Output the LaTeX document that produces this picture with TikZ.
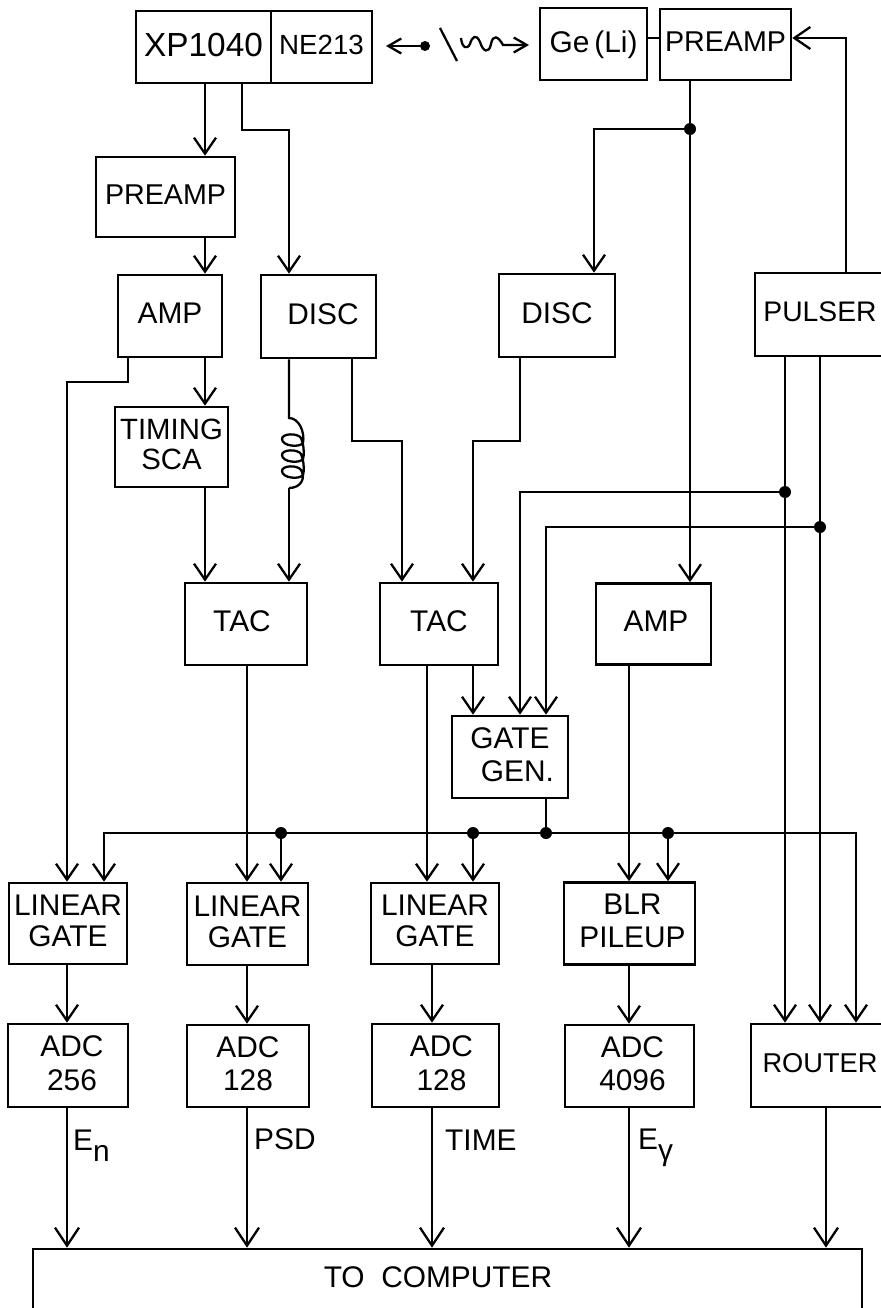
\documentclass[tikz,border=0pt]{standalone}
\usepackage{fontspec}
\setmainfont{Liberation Sans}
\usetikzlibrary{arrows.meta}

\begin{document}
\begin{tikzpicture}[x=0.02cm,y=-0.02cm,
    box/.style 2 args={draw,line width=1.5pt,inner sep=0pt,align=center,text depth=0.1cm,
      minimum width=#1*0.02cm,minimum height=#2*0.02cm,
      font=\fontsize{17}{19}\selectfont},
    wire/.style={line width=1.3pt},
    tip/.style={-{Straight Barb[length=3.2mm,width=4.4mm,line width=1.3pt]}},
    bigtip/.style={-{Straight Barb[length=3.6mm,width=4.8mm,line width=1.3pt]}},
    smalltip/.style={-{Straight Barb[length=2.6mm,width=3mm,line width=1.3pt]}},
    jdot/.style={circle,fill=black,inner sep=0pt,minimum size=0.24cm},
    tag/.style={anchor=base west,font=\fontsize{17}{20}\selectfont}]
  \useasboundingbox (0,0) rectangle (881,1308);

  % Columns and rows the wires run along
  \coordinate (colEn) at (67,0);
  \coordinate (colGa) at (104,0);
  \coordinate (colFa) at (128,0);
  \coordinate (colSlow) at (205,0);
  \coordinate (colFast) at (242,0);
  \coordinate (colPsd) at (247,0);
  \coordinate (colAnode) at (289,0);
  \coordinate (colStartA) at (352,0);
  \coordinate (colStartB) at (402,0);
  \coordinate (colTime) at (427,0);
  \coordinate (colTimeB) at (432,0);
  \coordinate (colStopB) at (473,0);
  \coordinate (colDiscB) at (520,0);
  \coordinate (colGateB) at (546,0);
  \coordinate (colGeFast) at (594,0);
  \coordinate (colGe) at (629,0);
  \coordinate (colOut) at (826,0);
  \coordinate (colPulC) at (846,0);
  \coordinate (colBus) at (856,0);
  \coordinate (rowTop) at (0,38);
  \coordinate (rowFast) at (0,130);
  \coordinate (rowAmp) at (0,382);
  \coordinate (rowDisc) at (0,441);

  % Detectors
  \node[box={135}{72}, font=\fontsize{19}{22}\selectfont] (xp) at (203.5,47) {XP1040};
  \node[box={101}{72}, font=\fontsize{15.8}{20}\selectfont] (ne) at (321.5,47) {NE213};
  \node[box={107}{72}] (ge) at (593.5,44) {Ge\,(Li)};
  \node[box={131}{71}, font=\fontsize{16.3}{20}\selectfont] (preampb) at (725.5,44.5) {PREAMP};

  % Source and gamma
  \node[jdot,minimum size=0.2cm] (src) at (425,46) {};
  \coordinate (srcend) at (386,46);
  \coordinate (slasha) at (440,28);
  \coordinate (slashb) at (457,61);
  \coordinate (wavea) at (461,38);
  \coordinate (waveb) at (529,45);
  \draw[wire,smalltip] (src) -- (srcend);
  \draw[wire] (slasha) -- (slashb);
  \draw[wire,smalltip] (wavea) .. controls (462,48) and (467,50) .. (470,44)
    .. controls (472,37) and (476,33) .. (480,42)
    .. controls (483,52) and (489,54) .. (491,44)
    .. controls (493,34) and (498,36) .. (503,45) -- (waveb);

  % Neutron side
  \node[box={139}{80}, font=\fontsize{16.3}{20}\selectfont] (preampa) at (165.5,197) {PREAMP};
  \node[box={104}{82}] (ampa) at (170,316) {AMP};
  \node[box={115}{83}] (disca) at (318.5,316.5) {\hspace*{0.18cm}DISC};
  \node[box={113}{80}, font=\fontsize{16.7}{16.8}\selectfont] (sca) at (171.5,447) {TIMING\\SCA};
  \node[box={122}{82}] (taca) at (246,624) {TAC\hspace*{0.16cm}};
  \node[box={118}{82}] (tacb) at (439,624) {TAC};

  % Gamma side
  \node[box={116}{83}] (discb) at (557,315.5) {DISC};
  \node[box={115}{81}] (ampb) at (653.5,624) {\hspace*{0.1cm}AMP};
  \node[box={130}{83}, font=\fontsize{16.1}{20}\selectfont] (pulser) at (820,314.5) {PULSER};
  \node[box={116}{82}] (gategen) at (510,757) {GATE\\\hspace*{0.3cm}GEN.};

  % Gates
  \node[box={118}{81}, font=\fontsize{17}{17.6}\selectfont] (lga) at (68,923.5) {LINEAR\\GATE};
  \node[box={121}{82}, font=\fontsize{17}{17.6}\selectfont] (lgb) at (247.5,924) {LINEAR\\GATE};
  \node[box={128}{81}, font=\fontsize{17}{17.6}\selectfont] (lgc) at (435,923.5) {LINEAR\\GATE};
  \node[box={131}{82}] (blr) at (629.5,923.5) {\hspace*{0.12cm}BLR\\\hspace*{0.12cm}PILEUP};

  % Converters
  \node[box={120}{83}] (adca) at (68,1065.5) {\hspace*{0.16cm}ADC\\\hspace*{0.16cm}256};
  \node[box={122}{82}] (adcb) at (248,1066) {ADC\\128};
  \node[box={127}{83}] (adcc) at (435.5,1065.5) {\hspace*{0.24cm}ADC\\\hspace*{0.24cm}128};
  \node[box={129}{82}] (adcd) at (629.5,1066) {\hspace*{0.12cm}ADC\\\hspace*{0.12cm}4096};
  \node[box={138}{83}, font=\fontsize{15.5}{20}\selectfont] (router) at (820,1065.5) {ROUTER};
  \node[box={829}{62}] (comp) at (447.5,1280) {TO\ \ COMPUTER\hspace*{0.38cm}};

  % Junctions
  \node[jdot] (jge) at (690,129) {};
  \node[jdot] (jpa) at (785,492) {};
  \node[jdot] (jpb) at (820,527) {};
  \node[jdot] (jbusa) at (281,833) {};
  \node[jdot] (jbusb) at (473,833) {};
  \node[jdot] (jbusc) at (546,833) {};
  \node[jdot] (jbusd) at (668,833) {};

  % Top connections
  \draw[wire] (ge.east |- rowTop) -- (preampb.west |- rowTop);
  \draw[wire,tip] (pulser.north -| colPulC) -- (colPulC |- rowTop) -- (preampb.east |- rowTop);
  \draw[wire,tip] (xp.south -| colSlow) -- (preampa.north -| colSlow);
  \draw[wire,tip] (xp.south -| colFast) -- (colFast |- rowFast) -- (colAnode |- rowFast) -- (disca.north -| colAnode);
  \draw[wire] (preampb.south -| jge) -- (jge);
  \draw[wire,line width=1.5pt,tip] (jge) -- (colGeFast |- jge) -- (discb.north -| colGeFast);
  \draw[wire,tip] (jge) -- (ampb.north -| jge);

  % Neutron branches
  \draw[wire,tip] (preampa.south -| colSlow) -- (ampa.north -| colSlow);
  \draw[wire,tip] (ampa.south -| colSlow) -- (sca.north -| colSlow);
  \draw[wire,tip] (sca.south -| colSlow) -- (taca.north -| colSlow);
  \draw[wire,tip] (ampa.south -| colFa) -- (colFa |- rowAmp) -- (colEn |- rowAmp) -- (lga.north -| colEn);
  \coordinate (coila) at (289,418);
  \coordinate (coilb) at (289,488);
  \draw[wire] (disca.south -| colAnode) -- (coila)
    .. controls (299,418) and (305,432) .. (303,443)
    .. controls (299,448) and (282,446) .. (282,439)
    .. controls (282,433) and (298,433) .. (301,438)
    .. controls (303,443) and (305,452) .. (303,459)
    .. controls (299,464) and (282,462) .. (282,455)
    .. controls (282,449) and (298,449) .. (301,454)
    .. controls (303,459) and (305,468) .. (303,475)
    .. controls (299,480) and (282,478) .. (282,471)
    .. controls (282,465) and (298,465) .. (301,470)
    .. controls (306,478) and (301,488) .. (coilb);
  \draw[wire,tip] (coilb) -- (taca.north -| coilb);
  \draw[wire,tip] (disca.south -| colStartA) -- (colStartA |- rowDisc) -- (colStartB |- rowDisc) -- (tacb.north -| colStartB);
  \draw[wire,tip] (discb.south -| colDiscB) -- (colDiscB |- rowDisc) -- (colStopB |- rowDisc) -- (tacb.north -| colStopB);

  % Gate generator
  \draw[wire,tip] (tacb.south -| colStopB) -- (gategen.north -| colStopB);
  \draw[wire,tip] (jpa) -- (colDiscB |- jpa) -- (gategen.north -| colDiscB);
  \draw[wire,tip] (jpb) -- (colGateB |- jpb) -- (gategen.north -| colGateB);
  \draw[wire] (gategen.south -| jbusc) -- (jbusc);

  % Pulser lines
  \draw[wire] (pulser.south -| jpa) -- (jpa);
  \draw[wire] (pulser.south -| jpb) -- (jpb);
  \draw[wire,tip] (jpa) -- (router.north -| jpa);
  \draw[wire,tip] (jpb) -- (router.north -| jpb);

  % Signals into the gates
  \draw[wire,tip] (taca.south -| colPsd) -- (lgb.north -| colPsd);
  \draw[wire,tip] (tacb.south -| colTime) -- (lgc.north -| colTime);
  \draw[wire,tip] (ampb.south -| colGe) -- (blr.north -| colGe);

  % Gate bus
  \draw[wire,line width=1.4pt,tip] (jbusa) -- (colGa |- jbusa) -- (lga.north -| colGa);
  \draw[wire] (jbusa) -- (jbusb);
  \draw[wire] (jbusb) -- (jbusc);
  \draw[wire] (jbusc) -- (jbusd);
  \draw[wire,tip] (jbusd) -- (colBus |- jbusd) -- (router.north -| colBus);
  \draw[wire,tip] (jbusa) -- (lgb.north -| jbusa);
  \draw[wire,tip] (jbusb) -- (lgc.north -| jbusb);
  \draw[wire,tip] (jbusd) -- (blr.north -| jbusd);

  % Gates to converters
  \draw[wire,tip] (lga.south -| colEn) -- (adca.north -| colEn);
  \draw[wire,tip] (lgb.south -| colPsd) -- (adcb.north -| colPsd);
  \draw[wire,tip] (lgc.south -| colTimeB) -- (adcc.north -| colTimeB);
  \draw[wire,tip] (blr.south -| colGe) -- (adcd.north -| colGe);

  % Converters to computer
  \draw[wire,bigtip] (adca.south -| colEn) -- (comp.north -| colEn);
  \draw[wire,bigtip] (adcb.south -| colPsd) -- (comp.north -| colPsd);
  \draw[wire,bigtip] (adcc.south -| colTimeB) -- (comp.north -| colTimeB);
  \draw[wire,bigtip] (adcd.south -| colGe) -- (comp.north -| colGe);
  \draw[wire,bigtip] (router.south -| colOut) -- (comp.north -| colOut);

  % Output labels
  \node[tag] (lblen) at (67,1150) {E\raisebox{-0.7ex}{n}};
  \node[tag] (lblpsd) at (248,1149) {PSD};
  \node[tag] (lbltime) at (439,1150) {TIME};
  \node[tag] (lbleg) at (632,1149) {E\raisebox{-0.7ex}{γ}};
\end{tikzpicture}
\end{document}
